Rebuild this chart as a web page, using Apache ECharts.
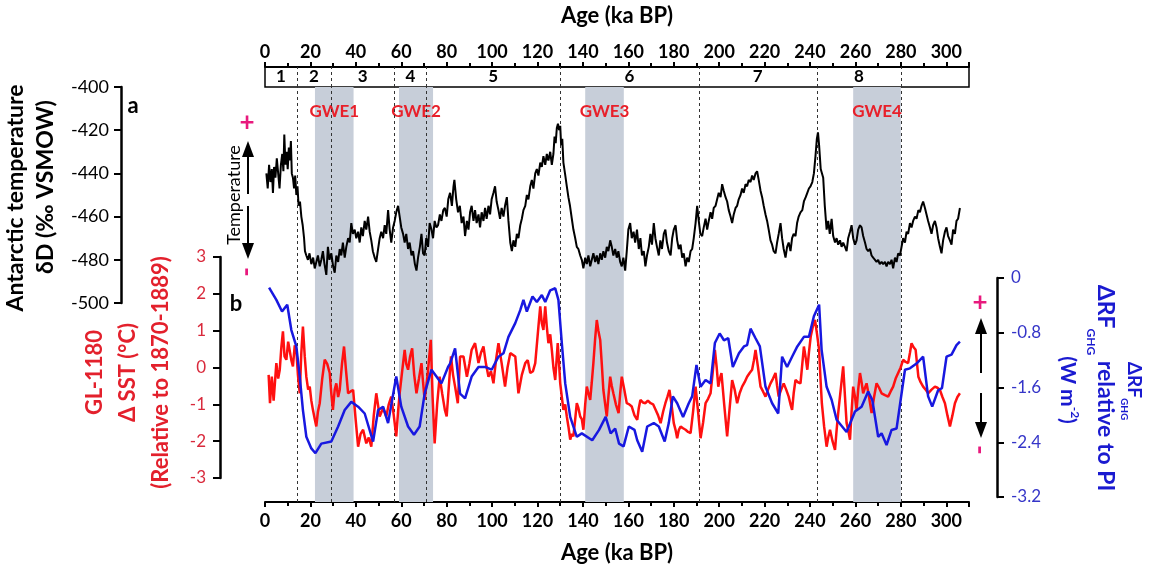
<!DOCTYPE html>
<html><head><meta charset="utf-8">
<script src="https://cdn.jsdelivr.net/npm/echarts@6/dist/echarts.min.js"></script>
<style>html,body{margin:0;padding:0;background:#fff}#c{width:1150px;height:570px}</style>
</head><body><div id="c"></div>
<script>
// ---------- DATA ----------
const ageTitle = 'Age (ka BP)';
const misBounds = [0, 14, 29, 57, 71, 130, 191, 243, 280];
const misNames = ['1', '2', '3', '4', '5', '6', '7', '8'];
const gweNames = ['GWE1', 'GWE2', 'GWE3', 'GWE4'];
const gweStart = [22, 59, 141, 259];
const gweEnd = [39, 74, 158, 280];

// Antarctic deltaD (permil VSMOW) [age ka, value]
const deltaD = [[0.6,-440],[1.2,-447],[1.8,-436],[2.4,-444],[3.0,-438],[3.5,-449],[4.0,-437],[4.6,-442],[5.2,-433],[5.8,-440],[6.4,-447],[7.0,-436],[7.6,-431],[8.1,-439],[8.5,-422],[9.0,-436],[9.5,-430],[10.0,-438],[10.5,-428],[11.0,-434],[11.4,-425],[11.8,-440],[12.3,-442],[12.8,-447],[13.3,-441],[13.8,-450],[14.3,-446],[14.8,-455],[15.4,-453],[16.0,-460],[16.6,-464],[17.2,-470],[17.6,-476],[18.2,-478],[18.9,-480],[19.6,-477],[20.4,-482],[21.2,-479],[21.9,-484],[22.6,-481],[23.3,-478],[24.1,-483],[24.8,-480],[25.5,-476],[26.2,-482],[27.0,-487],[27.7,-474],[28.4,-480],[29.2,-477],[30.0,-483],[30.7,-486],[31.4,-478],[32.2,-481],[32.9,-475],[33.6,-478],[34.3,-472],[35.1,-479],[35.8,-474],[36.6,-470],[37.3,-472],[38.0,-463],[38.7,-468],[39.5,-466],[40.2,-470],[41.0,-467],[41.7,-472],[42.4,-465],[43.1,-469],[43.9,-462],[44.6,-466],[45.4,-460],[46.1,-467],[46.8,-471],[47.5,-476],[48.3,-479],[49.0,-481],[49.8,-475],[50.5,-470],[51.2,-467],[52.0,-470],[52.7,-464],[53.4,-468],[54.2,-457],[54.9,-466],[55.6,-472],[56.4,-465],[57.1,-462],[57.8,-458],[58.6,-455],[59.3,-460],[60.0,-465],[60.8,-468],[61.5,-472],[62.2,-468],[63.0,-475],[63.7,-472],[64.5,-478],[65.2,-476],[66.0,-482],[66.7,-485],[67.4,-479],[68.2,-474],[68.9,-468],[69.6,-477],[70.3,-478],[71.0,-470],[71.8,-474],[72.5,-463],[73.3,-466],[74.0,-470],[74.7,-462],[75.5,-465],[76.2,-464],[77.0,-459],[77.7,-462],[78.5,-457],[79.2,-456],[80.0,-460],
[80.7,-452],[81.5,-449],[82.3,-455],[83.0,-446],[83.4,-443],[84.2,-452],[85.0,-458],[85.8,-455],[86.6,-463],[87.4,-460],[88.1,-469],[88.9,-462],[89.6,-466],[90.3,-458],[91.0,-455],[91.8,-462],[92.5,-457],[93.2,-463],[94.0,-459],[94.7,-465],[95.4,-458],[96.2,-462],[96.9,-456],[97.6,-461],[98.4,-455],[99.1,-459],[99.8,-452],[100.6,-449],[101.3,-446],[102.0,-453],[102.8,-457],[103.5,-461],[104.2,-456],[105.0,-460],[105.7,-455],[106.5,-451],[107.2,-462],[108.0,-472],[108.7,-476],[109.4,-471],[110.2,-474],[110.9,-468],[111.6,-470],[112.4,-464],[113.1,-461],[113.8,-457],[114.6,-455],[115.3,-450],[116.0,-452],[116.8,-446],[117.5,-443],[118.2,-447],[119.0,-440],[119.7,-438],[120.4,-441],[121.2,-435],[121.9,-437],[122.6,-432],[123.4,-436],[124.1,-431],[124.8,-434],[125.6,-430],[126.3,-436],[127.0,-431],[127.5,-423],[128.0,-426],[128.5,-419],[129.0,-417],[129.5,-420],[130.0,-418],[130.4,-427],[130.9,-424],[131.4,-435],[132.1,-440],[132.9,-446],[133.6,-451],[134.3,-455],[135.1,-461],[135.8,-466],[136.6,-470],[137.3,-474],[138.0,-475],[138.8,-478],[139.5,-480],[140.2,-484],[141.0,-479],[141.7,-482],[142.4,-478],[143.2,-483],[143.9,-480],[144.6,-477],[145.4,-481],[146.1,-478],[146.8,-482],[147.6,-477],[148.3,-480],[149.0,-476],[149.8,-479],[150.5,-474],[151.2,-476],[152.0,-471],[152.7,-474],[153.4,-478],[154.2,-475],[154.9,-479],[155.6,-476],[156.4,-481],[157.1,-483],[157.8,-479],[158.6,-485],[159.3,-476],[160.0,-466],[160.8,-463],[161.5,-470],[162.3,-467],
[163.0,-472],[163.8,-466],[164.6,-475],[165.3,-470],[166.0,-478],[166.8,-476],[167.5,-483],[168.2,-478],[169.0,-474],[169.7,-468],[170.4,-473],[171.2,-463],[171.9,-470],[172.6,-474],[173.4,-478],[174.1,-471],[174.8,-475],[175.6,-468],[176.3,-466],[177.0,-472],[177.8,-476],[178.6,-478],[179.3,-470],[180.0,-466],[180.8,-464],[181.5,-471],[182.2,-475],[183.0,-473],[183.7,-479],[184.4,-477],[185.2,-483],[185.9,-479],[186.6,-481],[187.4,-476],[188.1,-475],[188.8,-470],[189.6,-463],[190.3,-455],[191.0,-462],[191.7,-468],[192.5,-469],[193.2,-465],[194.0,-461],[194.7,-466],[195.4,-462],[196.2,-458],[196.9,-461],[197.6,-456],[198.4,-455],[199.1,-452],[199.8,-449],[200.6,-451],[201.3,-445],[202.0,-448],[202.8,-451],[203.5,-453],[204.2,-457],[205.0,-460],[205.7,-463],[206.4,-459],[207.2,-456],[207.9,-455],[208.6,-452],[209.4,-450],[210.1,-447],[210.8,-449],[211.6,-445],[212.3,-446],[213.0,-443],[213.8,-444],[214.5,-441],[215.2,-443],[216.0,-440],[216.7,-439],[217.4,-443],[218.2,-448],[218.9,-451],[219.6,-455],[220.4,-459],[221.1,-462],[221.8,-466],[222.6,-471],[223.3,-473],[224.0,-476],[224.8,-477],[225.5,-472],[226.2,-468],[227.0,-463],[227.7,-470],[228.4,-475],[229.2,-479],[229.9,-474],[230.6,-472],[231.4,-476],[232.1,-470],[232.8,-468],[233.6,-469],[234.3,-463],[235.0,-460],[235.8,-458],[236.6,-457],[237.3,-453],[238.1,-451],[238.8,-449],[239.5,-447],[240.2,-446],[241.0,-444],[241.7,-440],[242.4,-432],[243.0,-424],[243.5,-421],[244.0,-427],[244.7,-438],
[245.8,-442],[246.5,-455],[247.3,-466],[248.0,-462],[248.7,-468],[249.5,-461],[250.2,-469],[251.0,-472],[251.7,-470],[252.4,-473],[253.2,-471],[253.9,-474],[254.6,-472],[255.4,-474],[256.1,-476],[256.8,-470],[257.6,-467],[258.3,-464],[259.0,-470],[259.8,-473],[260.5,-471],[261.2,-466],[262.0,-464],[262.7,-465],[263.4,-469],[264.2,-472],[264.9,-475],[265.6,-476],[266.4,-475],[267.1,-478],[267.8,-479],[268.6,-480],[269.3,-481],[270.0,-480],[270.7,-482],[271.5,-481],[272.2,-482],[273.0,-481],[273.7,-483],[274.4,-481],[275.2,-482],[275.9,-480],[276.6,-484],[277.4,-479],[278.1,-481],[278.8,-477],[279.6,-478],[280.3,-474],[281.0,-470],[281.8,-472],[282.5,-467],[283.2,-468],[284.0,-463],[284.7,-465],[285.4,-462],[286.2,-460],[286.9,-461],[287.7,-457],[288.4,-458],[289.1,-455],[289.8,-453],[290.6,-456],[291.3,-459],[292.0,-462],[292.8,-465],[293.5,-468],[294.2,-464],[295.0,-462],[295.7,-465],[296.4,-470],[297.2,-474],[297.9,-477],[298.6,-471],[299.4,-467],[300.1,-465],[300.8,-469],[301.6,-471],[302.3,-473],[303.0,-466],[303.8,-468],[304.5,-462],[305.2,-461],[306.0,-456]];

// GL-1180 delta SST (degC) [age ka, value]
const deltaSST = [[1.6,-0.2],[2.2,-0.97],[3.0,-0.25],[3.8,-0.9],[5.0,0.12],[5.8,-0.3],[6.5,-0.06],[7.2,0.55],[7.9,0.98],[8.6,0.3],[9.4,0.21],[10.2,0.7],[10.9,0.75],[11.6,0.2],[12.3,0.03],[13.1,0.6],[13.8,0.48],[14.5,-0.2],[15.3,-0.7],[16.0,0.4],[16.7,1.11],[17.5,0.3],[18.2,-0.25],[19.0,-0.6],[19.7,-0.52],[20.4,-0.9],[21.1,-1.15],[21.9,-1.4],[22.6,-1.6],[23.3,-1.2],[24.1,-0.97],[25.2,-0.3],[26.3,0.21],[27.4,0.1],[28.5,-0.15],[29.2,-0.7],[29.9,-1.15],[30.7,-0.6],[31.4,-0.43],[32.2,-0.8],[32.9,-0.61],[33.9,0.1],[34.8,0.57],[35.7,-0.1],[36.6,-0.7],[37.7,-0.65],[38.8,-0.61],[39.9,-1.4],[41.0,-2.15],[42.1,-1.8],[43.2,-1.69],[44.6,-2.06],[45.7,-1.9],[46.8,-2.15],[47.9,-1.3],[49.0,-0.7],[50.5,-1.33],[52.0,-1.1],[53.4,-1.33],[54.5,-1.0],[55.6,-0.79],[56.7,-1.3],[57.8,-1.87],[58.6,-1.2],[59.3,-0.7],[60.4,-0.1],[61.5,0.48],[62.2,0.1],[63.0,-0.06],[63.9,0.3],[64.8,0.52],[65.7,-0.2],[66.7,-0.7],[67.8,-0.3],[68.9,0.12],[69.6,-0.4],[70.3,-0.88],[71.6,-0.2],[73.0,0.75],[73.8,-0.8],[74.7,-2.06],[75.8,-1.0],[76.9,-0.25],[78.0,-0.7],[79.2,-1.15],[80.0,-1.33],[80.8,-1.3],[81.9,0.3],[82.8,-0.2],[83.7,-0.52],[84.9,-0.97],[85.9,0.3],[87.4,0.3],[88.9,-0.25],[90.0,0.1],[91.0,0.48],[92.5,0.66],[94.0,0.12],[95.1,0.4],[96.2,0.57],[97.3,0.1],[98.4,-0.25],[99.5,-0.1],[100.6,-0.43],[101.7,0.2],[102.8,0.66],[104.2,0.12],[105.7,-0.52],[106.8,0.0],[108.0,0.39],[110.2,0.3],[111.6,-0.7],[113.1,-0.2],[114.6,0.12],[115.7,0.2],[116.8,-0.15],[118.0,-0.1],[119.0,0.12],[120.4,1.11],[121.2,1.66],[121.9,1.2],[122.6,1.02],[123.4,1.66],[124.1,1.1],[124.8,0.66],[125.6,0.9],[126.3,0.48],[127.0,0.0],[127.8,-0.34],[128.9,0.66],[129.5,0.1],[130.0,-0.43],[130.7,-0.8],[131.4,-1.15],[132.2,-1.0],[132.9,-1.33],[133.6,-1.6],[134.4,-1.96],[135.1,-1.8],[135.8,-1.87],[136.6,-1.4],[137.3,-0.97],[138.0,-1.1],[138.8,-1.33],[139.5,-1.4],[140.2,-1.69],[141.0,-1.0],[141.7,-0.52],[142.4,-0.7],[143.2,-0.88],[143.9,-0.4],[144.6,0.12],[145.4,0.8],[146.1,1.29],[146.8,1.0],[147.6,0.75],[148.3,0.1],[149.0,-0.61],[149.8,-1.0],[150.5,-1.33],[151.2,-0.8],[152.0,-0.25],[152.7,-0.5],[153.4,-0.7],[154.5,-1.0],[155.7,-1.24],[156.4,-0.7],[157.1,-0.25],[158.2,-0.6],[159.3,-0.97],[160.4,-1.0],[161.5,-1.06],[162.7,-1.3],[163.9,-1.42],[164.6,-1.1],[165.3,-0.88],[166.4,-0.95],[167.5,-0.97],[168.6,-0.9],[169.8,-0.97],[170.9,-1.0],[172.0,-1.15],[173.1,-1.3],[174.2,-1.51],[175.3,-1.2],[176.3,-0.97],[177.2,-0.8],[178.1,-0.61],[179.0,-1.0],[180.0,-1.51],[180.8,-1.7],[181.5,-1.92],[182.2,-1.7],[183.0,-1.6],[184.1,-1.65],[185.2,-1.69],[186.3,-1.75],[187.4,-1.78],[188.5,-1.2],[189.6,-0.52],[190.7,-1.2],[191.8,-1.92],[192.9,-1.5],[194.0,-0.97],[195.1,-0.85],[196.2,-0.7],[197.2,-0.1],[198.1,0.48],[198.9,0.0],[199.6,-0.52],[200.3,-0.3],[201.0,-0.15],[202.2,-1.0],[203.5,-1.87],[204.6,-1.1],[205.7,-0.34],[206.8,-0.6],[207.9,-0.97],[209.0,-0.7],[210.1,-0.52],[211.2,-0.4],[212.3,-0.25],[213.4,-0.15],[214.5,-0.06],[215.3,0.2],[216.0,0.48],[217.1,0.0],[218.2,-0.52],[219.3,-0.65],[220.4,-0.79],[221.5,-0.6],[222.6,-0.43],[223.7,-0.3],[224.8,-0.15],[225.5,-0.5],[226.2,-0.79],[227.3,-0.6],[228.4,-0.43],[229.5,-0.6],[230.6,-0.79],[231.4,-1.0],[232.1,-1.15],[232.8,-0.7],[233.6,-0.34],[234.7,-0.4],[235.8,-0.43],[236.6,0.1],[237.3,0.57],[238.0,0.3],[238.8,-0.06],[239.5,0.4],[240.3,0.84],[241.2,1.1],[242.2,1.29],[243.1,0.9],[244.0,0.48],[244.6,-0.3],[245.2,-0.97],[246.2,-1.6],[247.3,-2.15],[248.0,-1.9],[248.8,-1.69],[249.9,-2.0],[251.0,-2.24],[251.7,-1.7],[252.4,-1.24],[253.5,-0.6],[254.6,0.03],[255.4,-0.8],[256.1,-1.51],[256.8,-1.7],[257.6,-1.96],[258.3,-1.2],[259.0,-0.52],[259.8,-0.8],[260.5,-1.15],[261.2,-0.6],[262.0,-0.15],[262.7,-0.4],[263.4,-0.7],[264.2,-0.55],[264.9,-0.43],[266.0,-0.8],[267.1,-1.24],[268.2,-0.8],[269.3,-0.43],[270.4,-0.55],[271.5,-0.7],[273.0,-0.75],[274.4,-0.79],[275.5,-0.65],[276.6,-0.52],[277.7,-0.3],[278.8,-0.15],[279.9,0.0],[281.0,0.21],[282.1,0.15],[283.2,0.12],[284.0,0.4],[284.7,0.66],[285.6,0.55],[286.5,0.48],[287.7,-0.25],[288.7,-0.4],[289.8,-0.52],[290.9,-0.6],[292.0,-0.7],[293.5,-0.6],[295.0,-0.52],[296.1,-0.55],[297.2,-0.61],[298.3,-0.8],[299.4,-0.97],[300.5,-1.3],[301.6,-1.6],[302.7,-1.3],[303.8,-0.97],[304.9,-0.8],[306.0,-0.7]];

// Delta RF_GHG relative to PI (W m-2) [age ka, value]
const deltaRF = [[1.8,-0.14],[5.0,-0.32],[7.5,-0.49],[9.8,-0.39],[11.6,-0.76],[13.8,-1.0],[15.3,-1.44],[16.7,-1.93],[18.2,-2.32],[20.4,-2.49],[22.2,-2.56],[24.8,-2.42],[29.2,-2.39],[32.2,-2.17],[35.1,-1.93],[38.0,-1.81],[41.0,-1.88],[43.9,-1.98],[47.6,-2.39],[49.8,-1.93],[52.0,-1.88],[54.2,-2.12],[57.8,-1.44],[60.0,-1.88],[63.0,-2.17],[65.6,-2.29],[68.1,-2.17],[70.3,-1.69],[73.3,-1.34],[75.5,-1.44],[77.7,-1.54],[80.6,-1.3],[81.5,-1.25],[83.7,-1.03],[85.9,-1.69],[88.1,-1.76],[91.0,-1.44],[94.0,-1.3],[96.9,-1.3],[99.8,-1.34],[102.8,-1.15],[105.0,-1.1],[107.2,-0.86],[110.2,-0.66],[112.4,-0.47],[113.8,-0.32],[115.3,-0.49],[117.8,-0.27],[119.7,-0.35],[121.9,-0.25],[123.4,-0.35],[125.6,-0.18],[127.8,-0.15],[129.2,-0.32],[130.7,-0.95],[132.2,-1.54],[134.4,-2.03],[137.3,-2.32],[139.5,-2.27],[144.1,-2.37],[147.1,-2.22],[150.0,-2.03],[152.2,-2.27],[154.2,-2.2],[155.9,-2.42],[157.9,-2.46],[160.2,-2.17],[162.7,-2.22],[163.9,-2.37],[166.1,-2.54],[168.3,-2.17],[171.2,-2.12],[173.4,-2.17],[176.0,-2.39],[177.8,-2.12],[179.6,-1.73],[181.5,-1.83],[184.1,-2.03],[186.6,-1.83],[188.1,-1.73],[190.0,-1.27],[191.8,-1.59],[194.0,-1.49],[196.2,-1.54],[198.1,-0.95],[200.2,-0.81],[202.1,-0.91],[204.0,-0.88],[206.0,-1.3],[208.7,-1.1],[210.9,-1.0],[212.3,-0.98],[213.8,-0.74],[216.0,-0.88],[217.9,-1.0],[220.4,-1.59],[223.3,-1.83],[226.0,-1.98],[227.7,-1.15],[229.9,-1.3],[232.1,-1.15],[234.4,-1.0],[237.3,-0.86],[239.5,-0.86],[241.7,-0.56],[244.0,-0.39],[245.1,-1.05],[247.3,-1.59],[249.5,-1.78],[251.7,-2.07],[256.1,-2.25],[259.8,-1.95],[262.7,-1.88],[265.6,-1.66],[267.4,-1.78],[270.0,-2.32],[271.5,-2.27],[273.7,-2.44],[275.9,-2.22],[278.1,-2.2],[281.8,-1.34],[284.0,-1.32],[286.9,-1.25],[289.8,-1.15],[292.0,-1.73],[293.8,-1.88],[296.4,-1.64],[298.1,-1.61],[300.1,-1.15],[302.3,-1.12],[304.5,-0.98],[306.0,-0.93]];

// ---------- STYLE ----------
const FONT = 'Lato, "Open Sans", sans-serif';
const RED = '#ff1010', REDT = '#e3202c', REDL = '#d92a3c';
const BLUE = '#1818e0', BLUET = '#1a1ad0', BLUEL = '#3535c8';
const PINK = '#e8197d';
const GL = 265, GW = 704;

const chart = echarts.init(document.getElementById('c'), null, {renderer: 'canvas'});

// text runs along a vertical (top-to-bottom) baseline, for the rotated right-hand titles
const mctx = document.createElement('canvas').getContext('2d');
function textW(t, size) { mctx.font = 'bold ' + size + 'px ' + FONT; return mctx.measureText(t).width; }
function rotatedRuns(runs, cx, cy, color) {
  const total = runs.reduce((s, r) => s + textW(r.t, r.size), 0);
  let pos = cy - total / 2;
  return runs.map(r => {
    const el = {type: 'text', x: cx + r.dx, y: pos, rotation: -Math.PI / 2,
      style: {text: r.t, font: 'bold ' + r.size + 'px ' + FONT, fill: color, align: 'left', verticalAlign: 'middle'}};
    pos += textW(r.t, r.size);
    return el;
  });
}

function hiddenX(i) {
  return {gridIndex: i, type: 'value', min: 0, max: 310, show: false};
}
const ageAxisCommon = {
  type: 'value', min: 0, max: 310, interval: 20,
  axisLine: {show: true, onZero: false, lineStyle: {color: '#000', width: 2}},
  axisTick: {show: true, length: 5, lineStyle: {color: '#000', width: 2}},
  minorTick: {show: true, splitNumber: 2, length: 4, lineStyle: {color: '#000', width: 2}},
  splitLine: {show: false},
  name: ageTitle, nameLocation: 'middle',
  nameTextStyle: {fontSize: 22, fontWeight: 'bold', color: '#000', fontFamily: FONT}
};
function yAxisBase(extra) {
  return Object.assign({
    type: 'value', splitLine: {show: false},
    axisLine: {show: true, onZero: false, lineStyle: {color: '#000', width: 2.5}},
    axisTick: {show: true, length: 7, lineStyle: {color: '#000', width: 2}}
  }, extra);
}

const option = {
  animation: false,
  backgroundColor: '#fff',
  textStyle: {fontFamily: FONT},
  grid: [
    {left: GL, width: GW, top: 67, height: 20, show: true, borderColor: '#000', borderWidth: 1.5, backgroundColor: 'transparent', outerBoundsMode: 'none'},
    {left: GL, width: GW, top: 87, height: 415, outerBoundsMode: 'none'},
    {left: GL, width: GW, top: 87, height: 216, outerBoundsMode: 'none'},
    {left: GL, width: GW, top: 257, height: 221, outerBoundsMode: 'none'},
    {left: GL, width: GW, top: 278, height: 219, outerBoundsMode: 'none'}
  ],
  xAxis: [
    Object.assign({}, ageAxisCommon, {gridIndex: 0, position: 'top', nameGap: 40,
      axisLabel: {margin: 6, fontSize: 18, fontWeight: 'bold', color: '#000', showMaxLabel: false}}),
    Object.assign({}, ageAxisCommon, {gridIndex: 1, position: 'bottom', nameGap: 40,
      axisLabel: {margin: 10, fontSize: 18, fontWeight: 'bold', color: '#000', showMaxLabel: false}}),
    hiddenX(2), hiddenX(3), hiddenX(4)
  ],
  yAxis: [
    {gridIndex: 0, type: 'value', min: 0, max: 1, show: false},
    {gridIndex: 1, type: 'value', min: 0, max: 1, show: false},
    yAxisBase({gridIndex: 2, position: 'left', offset: 144, min: -500, max: -400, interval: 20,
      axisLabel: {margin: 12, fontSize: 18, color: '#000'},
      name: '{a|Antarctic temperature}\n{b|δD (‰ VSMOW)}', nameLocation: 'middle', nameGap: 49,
      nameTextStyle: {fontSize: 23, fontWeight: 'bold', color: '#000', lineHeight: 30, fontFamily: FONT,
        rich: {
          a: {fontSize: 23, fontWeight: 'bold', color: '#000', lineHeight: 30, fontFamily: FONT, padding: [0, 6, 0, 0]},
          b: {fontSize: 23, fontWeight: 'bold', color: '#000', lineHeight: 30, fontFamily: FONT, padding: [0, 0, 0, 16]}
        }}}),
    yAxisBase({gridIndex: 3, position: 'left', offset: 45, min: -3, max: 3, interval: 1,
      axisLabel: {margin: 14, fontSize: 17, color: REDL},
      name: 'GL-1180\nΔ SST (°C)\n(Relative to 1870-1889)', nameLocation: 'middle', nameGap: 43,
      nameTextStyle: {fontSize: 22, fontWeight: 'bold', color: REDT, lineHeight: 33, padding: [0, 10, 0, 0], fontFamily: FONT}}),
    yAxisBase({gridIndex: 4, position: 'right', offset: 28, min: -3.2, max: 0, interval: 0.8,
      axisLabel: {margin: 14, fontSize: 17, color: BLUEL, formatter: v => String(Math.round(v * 10) / 10)}})
  ],
  series: [
    { // MIS labels in the box
      type: 'line', xAxisIndex: 0, yAxisIndex: 0, data: [], silent: true, z: 1,
      markArea: {silent: true, itemStyle: {color: 'rgba(0,0,0,0)'},
        label: {show: true, position: 'inside', color: '#000', fontSize: 17, fontWeight: 'bold', fontFamily: FONT},
        data: misNames.map((n, i) => [{xAxis: misBounds[i], name: n}, {xAxis: misBounds[i + 1]}])},
      markLine: {silent: true, symbol: 'none', label: {show: false},
        lineStyle: {type: [3, 3], color: '#333', width: 1},
        data: misBounds.slice(1).map(v => ({xAxis: v}))}
    },
    { // GWE bands
      type: 'line', xAxisIndex: 1, yAxisIndex: 1, data: [], silent: true, z: 1,
      markArea: {silent: true, itemStyle: {color: '#c7ced9'},
        label: {show: true, position: 'insideTop', distance: 16, color: '#e8202a', fontSize: 17, fontWeight: 'bold', fontFamily: FONT},
        data: gweNames.map((n, i) => [{xAxis: gweStart[i], name: n}, {xAxis: gweEnd[i]}])}
    },
    { // MIS boundaries (dashed)
      type: 'line', xAxisIndex: 1, yAxisIndex: 1, data: [], silent: true, z: 2,
      markLine: {silent: true, symbol: 'none', label: {show: false},
        lineStyle: {type: [3, 3], color: '#333', width: 1},
        data: misBounds.slice(1).map(v => ({xAxis: v}))}
    },
    {name: 'δD', type: 'line', xAxisIndex: 2, yAxisIndex: 2, data: deltaD, showSymbol: false, z: 5,
      lineStyle: {color: '#000', width: 2}},
    {name: 'ΔSST', type: 'line', xAxisIndex: 3, yAxisIndex: 3, data: deltaSST, showSymbol: false, z: 6,
      lineStyle: {color: RED, width: 2.5}},
    {name: 'ΔRF_GHG', type: 'line', xAxisIndex: 4, yAxisIndex: 4, data: deltaRF, showSymbol: false, z: 7,
      lineStyle: {color: BLUE, width: 2.5}}
  ],
  graphic: [
    {type: 'text', x: 133, y: 106, style: {text: 'a', font: 'bold 22px ' + FONT, fill: '#000', align: 'center', verticalAlign: 'middle'}},
    {type: 'text', x: 236, y: 304, style: {text: 'b', font: 'bold 22px ' + FONT, fill: '#000', align: 'center', verticalAlign: 'middle'}},
    // left indicator
    {type: 'text', x: 247, y: 123, style: {text: '+', font: 'bold 26px ' + FONT, fill: PINK, align: 'center', verticalAlign: 'middle'}},
    {type: 'text', x: 247, y: 272, rotation: Math.PI / 2, style: {text: '-', font: 'bold 26px ' + FONT, fill: PINK, align: 'center', verticalAlign: 'middle'}},
    {type: 'line', shape: {x1: 248, y1: 155, x2: 248, y2: 194}, style: {stroke: '#000', lineWidth: 2}},
    {type: 'line', shape: {x1: 248, y1: 206, x2: 248, y2: 245}, style: {stroke: '#000', lineWidth: 2}},
    {type: 'polygon', shape: {points: [[248, 141], [242, 157], [254, 157]]}, style: {fill: '#000'}},
    {type: 'polygon', shape: {points: [[248, 259], [242, 243], [254, 243]]}, style: {fill: '#000'}},
    {type: 'text', x: 234, y: 195, rotation: Math.PI / 2, style: {text: 'Temperature', font: '18px ' + FONT, fill: '#000', align: 'center', verticalAlign: 'middle'}},
    // right indicator
    {type: 'text', x: 980, y: 303, style: {text: '+', font: 'bold 26px ' + FONT, fill: PINK, align: 'center', verticalAlign: 'middle'}},
    {type: 'text', x: 980, y: 450, rotation: Math.PI / 2, style: {text: '-', font: 'bold 26px ' + FONT, fill: PINK, align: 'center', verticalAlign: 'middle'}},
    {type: 'line', shape: {x1: 981, y1: 331, x2: 981, y2: 373}, style: {stroke: '#000', lineWidth: 2}},
    {type: 'line', shape: {x1: 981, y1: 393, x2: 981, y2: 425}, style: {stroke: '#000', lineWidth: 2}},
    {type: 'polygon', shape: {points: [[981, 318], [975, 334], [987, 334]]}, style: {fill: '#000'}},
    {type: 'polygon', shape: {points: [[981, 438], [975, 422], [987, 422]]}, style: {fill: '#000'}}
  ]
    // right-hand titles of the blue axis
    .concat(rotatedRuns([{t: 'ΔRF', size: 23, dx: 0}, {t: 'GHG', size: 12, dx: -14}, {t: ' relative to PI', size: 23, dx: 0}], 1105, 388, BLUET))
    .concat(rotatedRuns([{t: '(W m', size: 21, dx: 0}, {t: '-2', size: 12, dx: 7}, {t: ')', size: 21, dx: 0}], 1068, 390, BLUET))
    .concat(rotatedRuns([{t: 'ΔRF', size: 19, dx: 0}, {t: 'GHG', size: 10, dx: -10}], 1134, 391, BLUET))
};
chart.setOption(option);
</script>
</body></html>
